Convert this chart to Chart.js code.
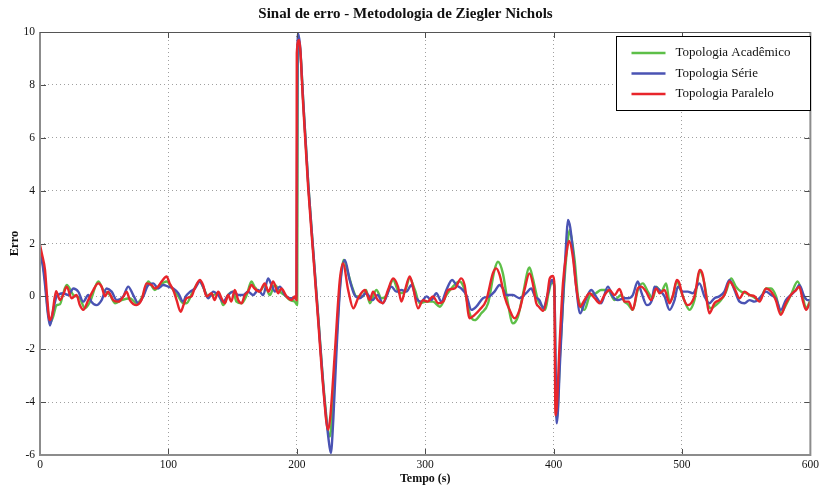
<!DOCTYPE html>
<html><head><meta charset="utf-8">
<script src="https://cdn.jsdelivr.net/npm/chart.js@4/dist/chart.umd.min.js"></script>
<style>html,body{margin:0;padding:0;background:#fff}#wrap{width:822px;height:486px;position:relative}</style>
</head><body><div id="wrap"><canvas id="c" width="822" height="486"></canvas></div>
<script>
const titulo = 'Sinal de erro - Metodologia de Ziegler Nichols';
const rotuloX = 'Tempo (s)';
const rotuloY = 'Erro';
const nomesSeries = ['Topologia Acadêmico', 'Topologia Série', 'Topologia Paralelo'];
const ticksX = [0, 100, 200, 300, 400, 500, 600];
const ticksY = [-6, -4, -2, 0, 2, 4, 6, 8, 10];

const tempoAcademico = [0,2,4,6,7.8,10,13,15.6,18,20.8,26,31,35,39,45.4,49.3,54.5,58.4,63.6,70,75.2,80.4,84.3,89.5,93.4,98.6,103.8,107.7,111.5,114,119,124.5,127.5,131,135,139,142.7,146.5,150.5,153,157,161,164.7,167,171,175,179,182.8,186.8,190.5,194.6,198.4,200.3,200.8,202.5,205,209,213,217,221,225.7,227.5,230.5,234,236.5,240,243,246.5,251.6,254,256.8,262,266,270,275,280,284,288,292,295.7,301,306,311.4,316.5,321.6,326.8,330.7,334.6,338.5,343.7,349,354,356.7,360.5,364.4,368.3,372.2,376,381.2,383.8,387.8,391.7,393.5,396,398.5,400.6,401.8,402.6,405,408,410.5,412.4,414,416.4,419,421.5,424,428,433,437,442.3,447.5,452.6,455.3,458,461.7,465.6,469.5,473.4,477.3,479.9,483.8,487.7,490.3,492.9,496,499.4,503.3,505.8,509.7,514,517.5,520,522.6,526.5,530.4,534.3,538.3,542,545.9,549.8,555,560.3,565.5,569.4,573.3,577,580.9,584.8,590.1,594,596.6,600];
const erroAcademico = [1.75,1.3,0.6,-0.5,-1.0,-0.8,-0.33,-0.3,0.1,0.43,0.05,-0.07,-0.45,-0.2,0.56,0.24,0.05,-0.26,-0.14,-0.07,-0.26,0.05,0.56,0.24,0.43,0.56,0.24,0.0,-0.26,-0.26,0.18,0.56,0.3,0.0,0.05,0.12,-0.33,0.05,0.18,-0.2,-0.26,0.05,0.56,0.37,0.18,0.43,0.05,0.43,0.18,0.05,-0.14,-0.2,-0.33,9.6,9.4,7.4,4.2,1.6,-0.95,-3.5,-5.3,-4.5,-2.0,0.6,1.38,0.87,0.37,0.0,0.0,0.24,-0.26,0.24,-0.07,0.05,0.62,0.12,0.18,0.68,0.24,-0.26,-0.2,-0.2,-0.39,0.05,0.37,0.56,0.24,-0.64,-0.9,-0.64,-0.26,1.0,1.31,0.87,-0.26,-1.02,-0.77,0.05,1.09,0.68,-0.14,-0.4,-0.51,0.1,0.5,0.5,-4.2,-4.6,-2.2,0.3,1.8,2.51,2.2,1.37,0.0,-0.4,-0.51,0.0,0.12,0.24,0.24,-0.14,0.05,-0.2,-0.3,-0.51,0.24,0.49,0.18,-0.07,0.37,0.18,0.49,-0.2,0.0,0.56,0.18,-0.33,-0.51,-0.14,0.94,0.49,-0.26,-0.45,-0.33,-0.14,0.18,0.68,0.37,0.18,0.12,0.0,-0.14,0.3,0.3,0.0,-0.64,-0.33,0.05,0.56,0.0,-0.45,-0.14];

const tempoSerie = [0,2,4,6,7.8,10,13,18,22,26,29.8,33.7,37.6,40,44,48,51.9,55.8,59.7,64.9,68.7,72.6,76.5,80.4,84.3,88.2,92,96,99.9,103.8,107.7,111.5,113.5,117,120.7,124.5,127,131,134.9,138.8,142.7,146.5,150.5,154.4,158.3,162,166,170,173.8,177.7,180.3,183,186.8,190.7,194.6,198.5,199.8,200.2,200.8,202.5,205,209,213,217,221,224.5,226.5,228.5,231,234,237.4,241.2,245,249,254,259,263,267,273.7,277.5,281.5,285.4,289.3,293,297,301,304.8,308.7,312.6,316.5,321,324.2,328,332,336,339.8,345,350,354,358,360.5,363,368.3,373.5,378.6,382.5,385.5,389,392,395.6,398.5,400.5,402.5,405,408,410,411.2,413,415,417.6,420.7,424,429.3,433,437,442.3,446,450,455.3,458,461.7,465.6,468.2,472.7,476.6,478.6,482.5,486.4,490.3,494.2,496.8,500.6,504.5,508.4,513.6,517.5,521.3,525.3,529,533,537,540.9,544.8,548.7,552.6,556.5,560.3,565.5,569.4,573,577,580.9,584.8,588.8,591.4,595.2,597.8,600];
const erroSerie = [1.6,1.2,0.4,-0.6,-1.1,-0.6,0,0.12,0.05,0.3,0.18,-0.2,0.05,-0.2,-0.33,-0.14,0.3,0.18,-0.14,0,0.37,0.05,-0.26,0,0.43,0.49,0.3,0.43,0.37,0.3,0.12,-0.2,0,0.18,0.3,0.56,0.37,-0.07,0.18,0.05,-0.2,0.05,0.18,0.05,0.05,0.18,0.05,0.24,0.05,0.68,0.43,0.18,0.37,0.05,-0.07,-0.07,0,5.0,9.95,9.5,7.4,4.2,1.6,-1.0,-3.6,-5.3,-5.93,-4.6,-2.0,0.5,1.38,0.62,0.05,-0.07,0.12,-0.14,0.05,-0.26,0.37,0.18,0.24,0.18,0.43,-0.07,-0.2,0,-0.14,0.12,-0.2,0.24,0.62,0.43,0.3,0.05,-0.51,-0.39,-0.07,0,0.18,0.43,0.3,0.05,0.05,-0.07,0.12,0.3,0,-0.14,-0.45,0.12,0.62,0.37,-4.8,-2.5,0.5,2.2,2.89,2.6,1.75,0.37,-0.64,-0.26,0.24,0,-0.26,0.37,0,-0.14,-0.07,-0.07,0.05,0.56,0.18,-0.33,-0.14,0.37,0.24,0,-0.51,-0.14,0.37,0.18,0.18,0.12,0.49,0,-0.26,-0.07,0,0.18,0.62,0.24,-0.2,-0.26,-0.14,-0.2,-0.07,0.18,0.05,-0.07,-0.51,-0.14,0.05,0.24,0.43,0,-0.14,-0.14];

const tempoParalelo = [0,1.5,3.9,5.5,7.5,9.5,12.5,15.6,18,20.8,24.6,28.5,31,33.7,37.6,41.5,45.4,48,50.6,53,57,61,65,67.4,70,75.2,79,83,86.9,89.5,92,94.7,98.6,101,103.8,106.4,109.5,112,114,118,120,124.5,127,129.7,133.6,136,138.8,141.4,144,146.5,149,151.7,154.4,157,159.5,162,164.7,167,171,175,178,181.6,185.5,188,192,196,198.4,199.7,200,201.8,204.9,208.8,212.7,216.6,220.5,224.4,226,229.6,233.5,236,240,244,247.8,253,256.8,259.4,263,267,271,275,278.8,281.5,284,288,290.5,294.4,298.3,302,306,310.1,314,317.8,323,328,330.7,334.6,338.5,342.4,347.6,352.7,355.3,358,361.8,365.7,369.6,373.5,377.3,381.2,383.8,386.5,388.5,392,395,397,399.5,400.5,401.5,402.5,404.7,407.3,410,412,415,417.6,420.7,424,428,432,435.8,439.7,443.6,447.5,451.3,455.3,458.5,461.7,465.6,468.2,472,476,479.9,482.5,486.4,490.3,493,496,498,500.6,504.5,509.7,514,516.2,518.7,521.3,525.3,529,533,537,540.9,544.8,548.7,552.6,556.5,560.3,565.5,569.4,573,577,580.9,584.8,588.8,591.4,594,596.6,600];
const erroParalelo = [1.95,1.6,1.0,0.0,-0.9,-0.7,0.2,-0.14,0.05,0.37,-0.07,0.05,-0.33,-0.51,-0.14,0.24,0.49,0.37,0,0.18,-0.14,-0.2,0,0.18,-0.14,-0.33,-0.14,0.49,0.43,0.3,0.37,0.56,0.75,0.49,0.24,-0.14,-0.58,-0.3,-0.07,0,0.24,0.62,0.43,0,0.12,-0.14,0.18,-0.07,-0.26,0.05,-0.2,0.24,-0.14,-0.26,0.05,0.18,0.43,0.3,0.18,0.49,0.18,0.56,0.12,0.3,0,-0.14,0,-0.14,9.2,9.7,7.3,4.15,1.63,-0.89,-3.4,-5.05,-4.6,-2.15,0.62,1.25,0.24,-0.45,-0.07,0.24,-0.14,0.18,-0.14,-0.26,0.24,0.68,0.37,-0.2,0.18,0.75,0.37,-0.45,-0.14,-0.2,0,-0.26,-0.2,0.24,0.3,0.68,0.43,-0.83,-0.7,-0.51,-0.14,0.87,1.06,0.81,0,-0.51,-0.83,-0.51,0.24,0.87,0.49,-0.26,-0.39,-0.55,0.0,0.68,0.77,0.56,-4.5,-4.2,-1.78,0.49,1.63,2.1,1.5,0.37,-0.39,-0.14,0.12,-0.07,-0.26,0.05,0.24,0.05,0.28,-0.2,-0.2,-0.51,0.3,0.37,0.18,-0.14,0.3,0.12,0.24,-0.26,0.05,0.62,0.49,0,-0.33,0,1.0,0.81,0.05,-0.64,-0.26,-0.14,0.05,0.56,0.3,-0.07,0.18,0.05,0,-0.2,0.3,0.18,-0.14,-0.7,-0.26,0.05,0.24,0.37,-0.14,-0.51,-0.2];

const coresSeries = ['#5dbf48', '#4a53b3', '#e8252b'];

function pares(t, v) {
  const n = Math.min(t.length, v.length);
  const out = [];
  for (let i = 0; i < n; i++) out.push({x: t[i], y: v[i]});
  return out;
}

const serif = '"Liberation Serif", "Times New Roman", serif';

const molduraPlugin = {
  id: 'moldura',
  afterDatasetsDraw(chart) {
    const {ctx, chartArea: a, scales: {x, y}} = chart;
    ctx.save();
    ctx.strokeStyle = '#4d4d4d';
    ctx.lineWidth = 1;
    ctx.beginPath();
    ticksX.forEach(v => {
      const px = Math.round(x.getPixelForValue(v)) + 0.5;
      ctx.moveTo(px, a.bottom); ctx.lineTo(px, a.bottom - 6);
      ctx.moveTo(px, a.top); ctx.lineTo(px, a.top + 6);
    });
    ticksY.forEach(v => {
      const py = Math.round(y.getPixelForValue(v)) + 0.5;
      ctx.moveTo(a.left, py); ctx.lineTo(a.left + 6, py);
      ctx.moveTo(a.right, py); ctx.lineTo(a.right - 6, py);
    });
    ctx.stroke();
    ctx.strokeStyle = '#8c8c8c';
    ctx.lineWidth = 2;
    ctx.beginPath();
    ctx.moveTo(a.left, a.top); ctx.lineTo(a.left, a.bottom); ctx.lineTo(a.right, a.bottom); ctx.lineTo(a.right, a.top);
    ctx.stroke();
    ctx.strokeStyle = '#555';
    ctx.lineWidth = 1;
    ctx.beginPath();
    ctx.moveTo(a.left, a.top + 0.5); ctx.lineTo(a.right, a.top + 0.5);
    ctx.stroke();
    ctx.restore();
  },
  afterDraw(chart) {
    const {ctx, chartArea: a} = chart;
    const w = 194, h = 74;
    const lx = Math.round(a.right - w) + 0.5, ly = Math.round(a.top + 4) + 0.5;
    ctx.save();
    ctx.fillStyle = '#fff';
    ctx.fillRect(lx, ly, w, h);
    ctx.strokeStyle = '#000';
    ctx.lineWidth = 1;
    ctx.strokeRect(lx, ly, w, h);
    ctx.font = '13px ' + serif;
    ctx.textBaseline = 'middle';
    ctx.textAlign = 'left';
    chart.data.datasets.forEach((ds, i) => {
      const yy = ly + 16.5 + i * 20.5;
      ctx.strokeStyle = ds.borderColor;
      ctx.lineWidth = 2.5;
      ctx.beginPath();
      ctx.moveTo(lx + 15, yy); ctx.lineTo(lx + 49, yy);
      ctx.stroke();
      ctx.fillStyle = '#111';
      ctx.fillText(ds.label, lx + 59, yy);
    });
    ctx.restore();
  }
};

new Chart(document.getElementById('c'), {
  type: 'line',
  data: {
    datasets: [
      {label: nomesSeries[0], data: pares(tempoAcademico, erroAcademico), borderColor: coresSeries[0], order: 3},
      {label: nomesSeries[1], data: pares(tempoSerie, erroSerie), borderColor: coresSeries[1], order: 2},
      {label: nomesSeries[2], data: pares(tempoParalelo, erroParalelo), borderColor: coresSeries[2], order: 1}
    ]
  },
  options: {
    responsive: false,
    animation: false,
    parsing: false,
    elements: {
      line: {borderWidth: 2.4, cubicInterpolationMode: 'monotone', fill: false},
      point: {radius: 0, hoverRadius: 0}
    },
    layout: {padding: {left: 0, right: 11, top: 0, bottom: 0}},
    plugins: {
      legend: {display: false},
      tooltip: {enabled: false},
      title: {
        display: true, text: titulo, color: '#111',
        font: {family: serif, size: 15, weight: 'bold', lineHeight: 1.2},
        padding: {top: 5, bottom: 9}
      }
    },
    scales: {
      x: {
        type: 'linear', min: 0, max: 600,
        afterBuildTicks(s) { s.ticks = ticksX.map(v => ({value: v})); },
        afterFit(s) { s.height = 31; },
        grid: {color: '#a0a0a0', lineWidth: 1, drawTicks: false},
        border: {display: false, dash: [1, 3]},
        ticks: {color: '#111', padding: 3, font: {family: serif, size: 11.5}},
        title: {display: true, text: rotuloX, color: '#111', padding: {top: 0, bottom: 0}, font: {family: serif, size: 12, weight: 'bold', lineHeight: 1.2}}
      },
      y: {
        type: 'linear', min: -6, max: 10,
        afterBuildTicks(s) { s.ticks = ticksY.map(v => ({value: v})); },
        afterFit(s) { s.width = 40; },
        grid: {color: '#a0a0a0', lineWidth: 1, drawTicks: false},
        border: {display: false, dash: [1, 3]},
        ticks: {color: '#111', padding: 5, font: {family: serif, size: 11.5}},
        title: {display: true, text: rotuloY, color: '#111', padding: {top: 7, bottom: 0}, font: {family: serif, size: 12.5, weight: 'bold', lineHeight: 1.2}}
      }
    }
  },
  plugins: [molduraPlugin]
});
</script>
</body></html>
